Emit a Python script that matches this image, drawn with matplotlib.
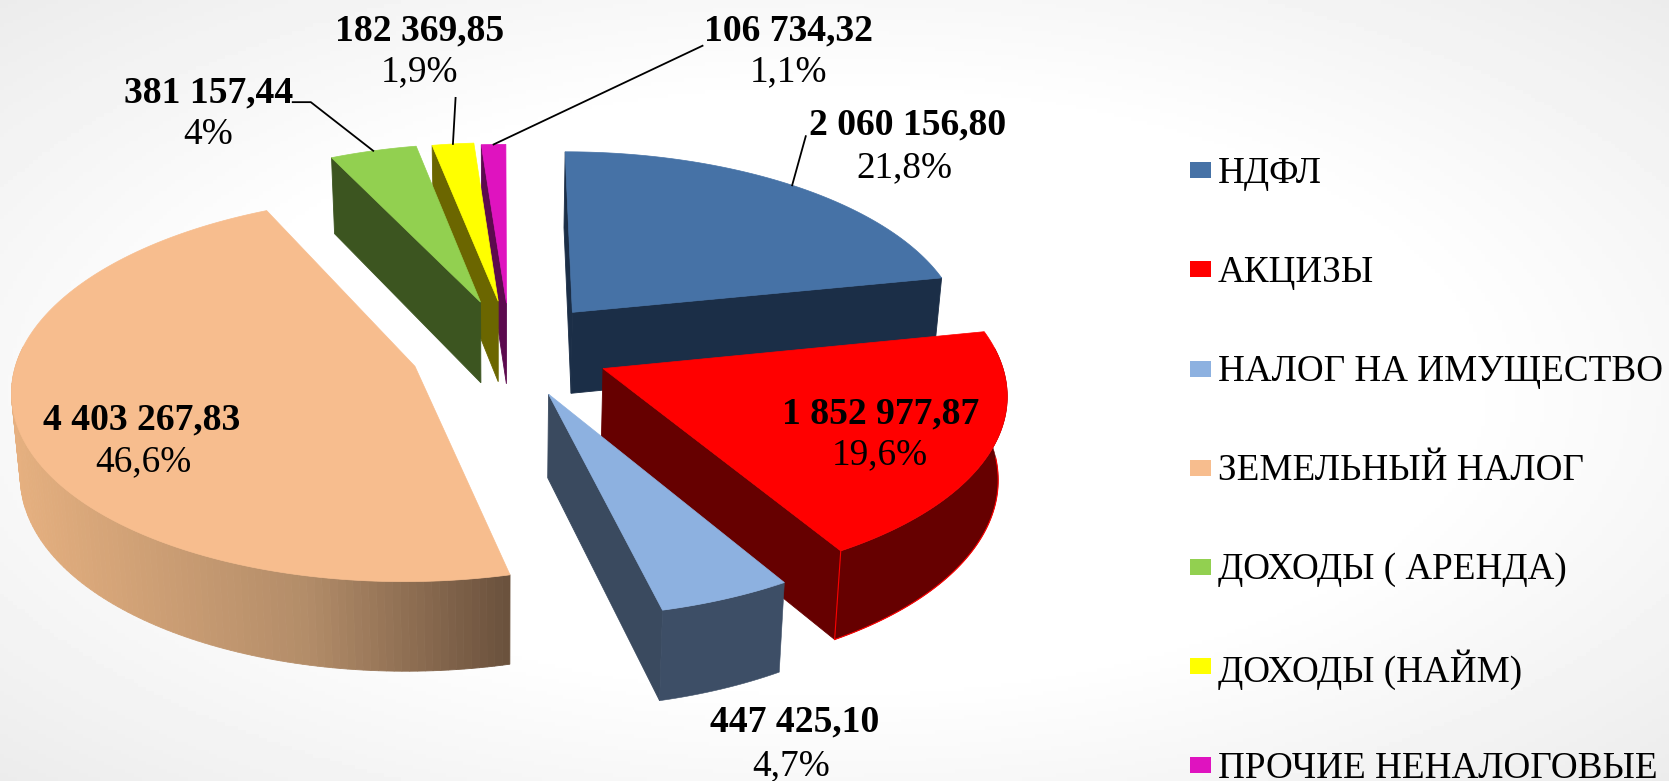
import numpy as np
import matplotlib
matplotlib.use("Agg")
import matplotlib.pyplot as plt
from matplotlib.patches import Polygon, Rectangle

categories = ["НДФЛ", "АКЦИЗЫ", "НАЛОГ НА ИМУЩЕСТВО", "ЗЕМЕЛЬНЫЙ НАЛОГ",
              "ДОХОДЫ ( АРЕНДА)", "ДОХОДЫ (НАЙМ)", "ПРОЧИЕ НЕНАЛОГОВЫЕ"]
values = [2060156.80, 1852977.87, 447425.10, 4403267.83, 381157.44, 182369.85, 106734.32]
value_labels = ["2 060 156,80", "1 852 977,87", "447 425,10", "4 403 267,83",
                "381 157,44", "182 369,85", "106 734,32"]
percent_labels = ["21,8%", "19,6%", "4,7%", "46,6%", "4%", "1,9%", "1,1%"]

top_colors = ["#4672a6", "#ff0000", "#8db1e0", "#f7bd8e", "#92d050", "#ffff00", "#df13bf"]
side_colors = ["#1b2e47", "#660000", "#3a4a5f", "#f7bd8e", "#3c5520", "#6b6600", "#5c0a4e"]

# layout of the pseudo-3D pie, in pixels of the 1568-wide view
explode_x = [69, 95, 44, -79, -19, -2, 6]
explode_y = [29, -24, -47, -22, 39, 40, 38]
CX, CY, RX, RY, PERSP, DEPTH, SHRINK = 470, 322, 370, 174, 0.00065, 77, 0.018
label_pos = [(853, 117, 850, 158), (827, 389, 827, 428), (747, 679, 743, 720),
             (133, 395, 135, 434), (196, 87, 196, 127), (394, 29, 394, 68), (741, 29, 741, 68)]
leader_paths = {0: [(757, 128)], 4: [(275, 96), (292, 96)], 5: [(428, 92)], 6: [(660, 43)]}
draw_order = [6, 5, 4, 0, 3, 1, 2]

plt.rcParams["font.family"] = ["Liberation Serif", "DejaVu Serif"]
fig = plt.figure(figsize=(16.69, 7.81), dpi=100)
ax = fig.add_axes([0, 0, 1, 1])
ax.set_xlim(0, 1568)
ax.set_ylim(734, 0)
ax.axis("off")

# background: white centre fading to light grey corners
gx, gy = np.meshgrid(np.linspace(-1, 1, 400), np.linspace(-1, 1, 200))
dist = np.clip((np.hypot(gx, gy) - 0.75) / 0.66, 0, 1)
ax.imshow(1 - 0.075 * dist, cmap="gray", vmin=0, vmax=1, extent=(0, 1568, 734, 0),
          aspect="auto", zorder=0)


def project(X, Y, bottom=False):
    w = 1 / (1 + PERSP * Y)
    sx, sy = X * w, Y * w
    if bottom:
        return CX + sx * (1 - SHRINK), CY - sy * (1 - SHRINK) + DEPTH * w
    return CX + sx, CY - sy


def world(i, theta):
    return explode_x[i] + RX * np.cos(theta), explode_y[i] + RY * np.sin(theta)


def signed_area(pts):
    p = np.asarray(pts)
    return 0.5 * np.sum(p[:, 0] * np.roll(p[:, 1], -1) - np.roll(p[:, 0], -1) * p[:, 1])


def peach_shade(t):
    stops = np.array([[0.90, 0.69, 0.50], [0.70, 0.55, 0.41], [0.42, 0.32, 0.24]])
    t = np.clip(t, 0, 1)
    if t < 0.6:
        return stops[0] + (stops[1] - stops[0]) * t / 0.6
    return stops[1] + (stops[2] - stops[1]) * (t - 0.6) / 0.4


fractions = np.array(values) / np.sum(values)
starts = np.pi / 2 - 2 * np.pi * np.concatenate(([0], np.cumsum(fractions)[:-1]))
ends = starts - 2 * np.pi * fractions
mids = (starts + ends) / 2

for z, i in enumerate(draw_order):
    th = np.linspace(starts[i], ends[i], max(int(np.degrees(starts[i] - ends[i])), 6))
    wx, wy = world(i, th)
    ex, ey = explode_x[i], explode_y[i]
    # clockwise loop: apex -> start arc -> end -> apex
    loop_x = np.concatenate(([ex], wx))
    loop_y = np.concatenate(([ey], wy))
    tx, ty = project(loop_x, loop_y)
    bx, by = project(loop_x, loop_y, bottom=True)
    n = len(tx)
    zb = 2 + z * 2
    # the two flat radial walls
    for a, b in ((0, 1), (n - 1, 0)):
        quad = [(tx[a], ty[a]), (tx[b], ty[b]), (bx[b], by[b]), (bx[a], by[a])]
        if signed_area(quad) < 0:
            ax.add_patch(Polygon(quad, closed=True, facecolor=side_colors[i],
                                 edgecolor=side_colors[i], lw=0.6, zorder=zb))
    # the outer wall shows on the near half; the top face hides the rest
    vis = np.sin(th) <= 0.12
    if vis.sum() > 1:
        ax_x, ax_y = tx[1:][vis], ty[1:][vis]
        cx_b, cy_b = bx[1:][vis], by[1:][vis]
        if i == 3:
            for k in range(len(ax_x) - 1):
                c = peach_shade((ax_x[k] - 12) / (478 - 12))
                q = [(ax_x[k], ax_y[k]), (ax_x[k + 1], ax_y[k + 1]), (cx_b[k + 1], cy_b[k + 1]), (cx_b[k], cy_b[k])]
                ax.add_patch(Polygon(q, closed=True, facecolor=c, edgecolor=c, lw=0.6, zorder=zb))
        else:
            c = "#3d4e66" if i == 2 else side_colors[i]
            outline = np.column_stack([np.concatenate([ax_x, cx_b[::-1]]), np.concatenate([ax_y, cy_b[::-1]])])
            ax.add_patch(Polygon(outline, closed=True, facecolor=c, edgecolor=c, lw=0.4, zorder=zb))
    if i == 1:
        front = np.sin(th) <= -0.02
        ax.plot(bx[1:][front], by[1:][front], color="#ff0000", lw=0.8, zorder=zb + 0.5)
        ax.plot([tx[-1], bx[-1]], [ty[-1], by[-1]], color="#ff0000", lw=0.8, zorder=zb + 0.5)
    ax.add_patch(Polygon(np.column_stack([tx, ty]), closed=True, facecolor=top_colors[i],
                         edgecolor=top_colors[i], lw=0.5, zorder=zb + 1))

# leader lines run to the middle of each slice's arc
for i, path in leader_paths.items():
    mx, my = project(*world(i, mids[i]))
    pts = np.array(path + [(mx, my)])
    ax.plot(pts[:, 0], pts[:, 1], color="black", lw=1.3, zorder=40)

for i, (x1, y1, x2, y2) in enumerate(label_pos):
    ax.text(x1, y1, value_labels[i], fontsize=27.1, fontweight="bold", ha="center", va="center", zorder=50)
    ax.text(x2, y2, percent_labels[i], fontsize=26.8, ha="center", va="center", zorder=50)

# legend
for i, name in enumerate(categories):
    y = 160 + i * 93.2
    ax.add_patch(Rectangle((1118, y - 7.5), 20, 15, facecolor=top_colors[i], edgecolor="none", zorder=50))
    ax.text(1144, y + 3, name, fontsize=26.7, ha="left", va="center", zorder=50, clip_on=True)

fig.savefig("out.png", dpi=100)
